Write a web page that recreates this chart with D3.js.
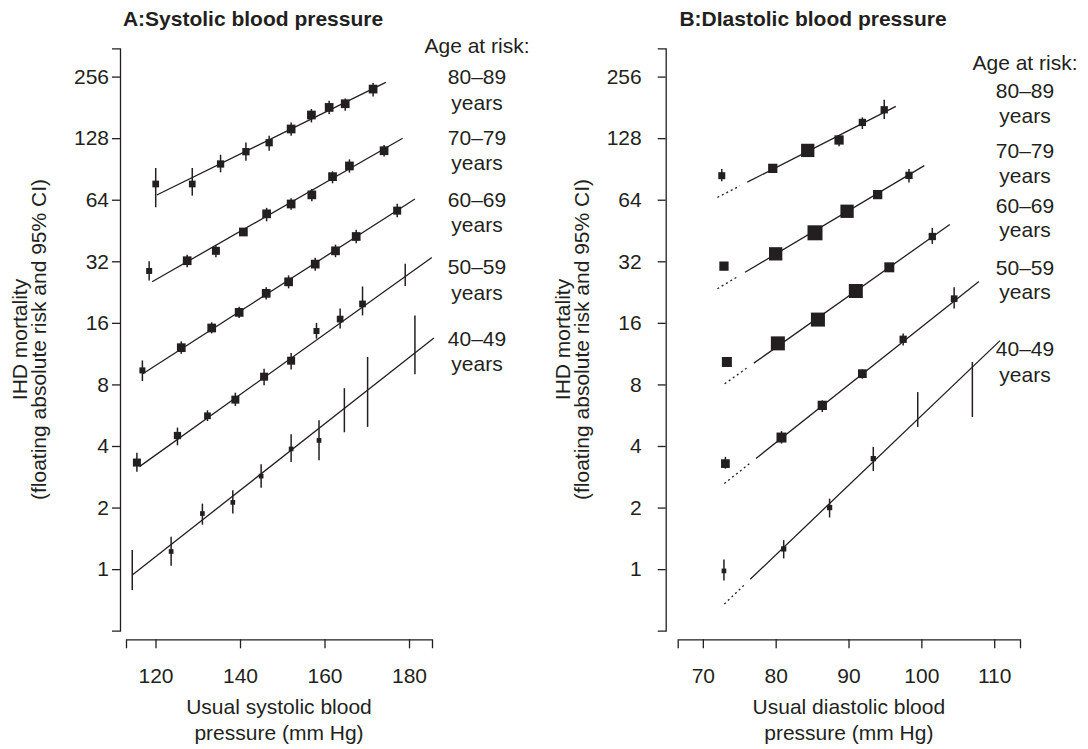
<!DOCTYPE html>
<html><head><meta charset="utf-8">
<script src="https://cdn.jsdelivr.net/npm/d3@7"></script>
<style>
body{margin:0;background:#fff}
text{font-family:"Liberation Sans",Arial,Helvetica,sans-serif;fill:#231f20}
</style>
</head><body>
<svg id="c" width="1088" height="749"></svg>
<script>
// ---------------- DATA ----------------
const ageGroups = ["80–89", "70–79", "60–69", "50–59", "40–49"];
const yTickValues = [1, 2, 4, 8, 16, 32, 64, 128, 256];
const sbpTicks = [120, 140, 160, 180];
const dbpTicks = [70, 80, 90, 100, 110];

// Panel A: systolic blood pressure (mm Hg) vs IHD mortality (floating absolute risk)
const sbpX = [
  [120.05, 128.7, 135.4, 141.4, 146.9, 152.1, 156.9, 161.1, 164.9, 171.5],
  [118.5, 127.5, 134.3, 140.8, 146.3, 152.1, 157.0, 161.9, 165.9, 174.1],
  [116.9, 126.1, 133.3, 139.8, 146.2, 151.5, 157.8, 162.6, 167.5, 177.2],
  [115.6, 125.2, 132.3, 138.9, 145.7, 152.1, 158.1, 163.7, 169.0, 179.1],
  [114.5, 123.7, 131.1, 138.3, 145.0, 152.1, 158.7, 164.7, 170.2, 181.4]
];
const sbpRisk = [
  [76.4, 76.4, 95.7, 109.9, 121.6, 141.9, 166.1, 180.9, 188.6, 222.4],
  [28.7, 32.2, 36.0, 44.5, 54.6, 61.0, 67.6, 83.0, 93.6, 111.1],
  [9.37, 12.1, 15.1, 18.0, 22.3, 25.4, 31.0, 36.0, 42.3, 56.6],
  [3.32, 4.50, 5.62, 6.74, 8.73, 10.45, 14.6, 16.7, 19.8, 27.3],
  [0.99, 1.22, 1.87, 2.12, 2.85, 3.87, 4.26, 5.98, 7.32, 12.4]
];
const sbpLo = [
  [58.8, 67.0, 87.1, 99.3, 111, 131.6, 152.8, 168, 174.3, 204.7],
  [25.8, 29.9, 33.5, 42.7, 50.2, 57.1, 62.9, 77.0, 86.8, 104],
  [8.31, 11.3, 14.2, 16.9, 20.8, 23.6, 28.8, 33.5, 39.2, 52.5],
  [2.99, 4.03, 5.30, 6.28, 7.92, 9.47, 13.4, 15.0, 17.4, 24.2],
  [0.79, 1.04, 1.65, 1.87, 2.50, 3.34, 3.41, 4.67, 4.96, 8.98]
];
const sbpHi = [
  [91.5, 91.5, 106.2, 122, 131.6, 152.8, 177.7, 195, 200, 237.9],
  [32.0, 34.4, 38.2, 46.2, 58.4, 65.0, 72.3, 88.1, 100.8, 118.5],
  [10.48, 13.0, 16.1, 19.2, 23.9, 27.3, 33.3, 38.6, 45.6, 61.1],
  [3.71, 4.92, 5.98, 7.29, 9.55, 11.4, 16.0, 18.8, 24.1, 31.1],
  [1.24, 1.44, 2.09, 2.43, 3.26, 4.57, 5.35, 7.67, 10.9, 17.4]
];
// statistical weight (inverse variance, relative) -> square area
const sbpWeight = [
  [45, 45, 53, 53, 53, 76, 76, 76, 76, 76],
  [36, 76, 64, 76, 76, 76, 76, 76, 76, 76],
  [36, 76, 76, 76, 76, 76, 76, 76, 76, 64],
  [64, 53, 45, 64, 64, 64, 36, 45, 45, 0],
  [0, 22, 22, 22, 22, 22, 22, 0, 0, 0]
];
// fitted regression lines: [x start, x end], [risk start, risk end]
const sbpLineX = [[120.3, 174.5], [119.2, 178.5], [116.9, 181.4], [116.2, 185.4], [114.5, 185.9]];
const sbpLineY = [[67.5, 240], [25.4, 127.9], [9.0, 64.5], [3.17, 33.4], [0.935, 13.5]];

// Panel B: diastolic blood pressure
const dbpX = [
  [72.6, 79.6, 84.4, 88.7, 91.9, 94.9],
  [72.9, 80.0, 85.4, 89.8, 94.0, 98.3],
  [73.3, 80.3, 85.8, 91.0, 95.6, 101.5],
  [73.1, 80.8, 86.4, 91.9, 97.5, 104.5],
  [72.9, 81.1, 87.4, 93.4, 99.5, 107.0]
];
const dbpRisk = [
  [83.9, 91.1, 111.5, 125.4, 152.8, 176.2],
  [30.3, 34.8, 44.1, 56.2, 67.8, 84.2],
  [10.3, 12.7, 16.6, 22.9, 29.9, 42.3],
  [3.28, 4.40, 6.32, 9.03, 13.3, 21.0],
  [0.98, 1.256, 2.0, 3.47, 5.84, 7.57]
];
const dbpLo = [
  [78.7, 87.6, 107.8, 116.7, 141.9, 158.8],
  [28.9, 33.6, 42.6, 54.3, 64.9, 77.8],
  [9.9, 12.2, 16.0, 22.1, 28.7, 38.9],
  [3.10, 4.11, 5.86, 8.53, 12.4, 18.8],
  [0.88, 1.128, 1.79, 3.02, 4.96, 5.54]
];
const dbpHi = [
  [90.5, 94.7, 115.4, 132.5, 161.7, 197.3],
  [31.7, 36.0, 45.6, 58.1, 70.8, 90.5],
  [10.7, 13.2, 17.2, 23.7, 31.1, 46.6],
  [3.54, 4.73, 6.69, 9.47, 14.2, 23.9],
  [1.115, 1.386, 2.21, 3.96, 7.34, 10.3]
];
const dbpWeight = [
  [49, 86, 177, 86, 53, 53],
  [86, 177, 225, 177, 86, 53],
  [100, 196, 196, 196, 100, 53],
  [76, 100, 86, 76, 53, 45],
  [22, 28, 28, 28, 0, 0]
];
const dbpLineX = [[72.0, 96.5], [72.0, 100.4], [73.0, 103.9], [72.95, 107.9], [72.95, 110.8]];
const dbpLineY = [[65.7, 183], [23.5, 93.9], [8.06, 48.4], [2.62, 25.5], [0.675, 13.1]];
// extrapolated (dotted) part ends / fitted (solid) part starts
const dbpBreak = [[75.1, 76.1], [74.65, 75.8], [76.0, 77.0], [76.5, 77.3], [75.8, 76.5]];

// ---------------- DRAWING ----------------
const ink = "#231f20";
const svg = d3.select("#c");
const y = d3.scaleLog().base(2).domain([0.5, 352]).range([630.7, 48.3]);
const side = d3.scaleSqrt().domain([0, 225]).range([0, 15]);

const panels = [
  {
    title: "A:Systolic blood pressure", titleX: 253,
    x: d3.scaleLinear().domain([113.02, 185.44]).range([126, 432]),
    ticks: sbpTicks, axisX: 120, pad: 3,
    X: sbpX, R: sbpRisk, L: sbpLo, H: sbpHi, W: sbpWeight, LX: sbpLineX, LY: sbpLineY, B: null,
    yTitleX: [27, 46],
    legendX: 477,
    legendY: [53, 84, 110, 145, 170, 207, 232, 274, 300, 346, 371],
    xTitle: ["Usual systolic blood", "pressure (mm Hg)"]
  },
  {
    title: "B:DIastolic blood pressure", titleX: 813,
    x: d3.scaleLinear().domain([66.55, 113.54]).range([677.7, 1020]),
    ticks: dbpTicks, axisX: 665.7, pad: 16,
    X: dbpX, R: dbpRisk, L: dbpLo, H: dbpHi, W: dbpWeight, LX: dbpLineX, LY: dbpLineY, B: dbpBreak,
    yTitleX: [570, 589],
    legendX: 1025,
    legendY: [70, 98, 123, 158, 183, 213, 237, 275, 299, 356, 382],
    xTitle: ["Usual diastolic blood", "pressure (mm Hg)"]
  }
];

panels.forEach(p => {
  const g = svg.append("g");
  const x = p.x;

  // title
  g.append("text").attr("x", p.titleX).attr("y", 26).attr("text-anchor", "middle")
    .style("font-weight", "bold").style("font-size", "21px").text(p.title);

  // y axis
  const ya = g.append("g").attr("transform", `translate(${p.axisX},0)`)
    .call(d3.axisLeft(y).tickValues(yTickValues).tickFormat(d3.format("d"))
      .tickSize(8).tickSizeOuter(8).tickPadding(p.pad));
  // x axis
  const xa = g.append("g").attr("transform", "translate(0,639.3)")
    .call(d3.axisBottom(x).tickValues(p.ticks).tickFormat(d3.format("d"))
      .tickSize(9).tickSizeOuter(9).tickPadding(20));
  [ya, xa].forEach(a => {
    a.select(".domain").attr("stroke", ink).attr("stroke-width", 1.3);
    a.selectAll(".tick line").attr("stroke", ink).attr("stroke-width", 1.3);
    a.selectAll(".tick text").style("font-size", "21px").attr("fill", ink)
      .style("font-family", '"Liberation Sans",Arial,sans-serif');
  });

  // y title
  const cy = (y.range()[0] + y.range()[1]) / 2;
  ["IHD mortality", "(floating absolute risk and 95% CI)"].forEach((t, i) => {
    g.append("text").attr("transform", `translate(${p.yTitleX[i]},${cy}) rotate(-90)`)
      .attr("text-anchor", "middle").style("font-size", "21px").text(t);
  });

  // x title
  p.xTitle.forEach((t, i) => {
    g.append("text").attr("x", (x.range()[0] + x.range()[1]) / 2).attr("y", 714 + i * 26)
      .attr("text-anchor", "middle").style("font-size", "21px").text(t);
  });

  // legend
  const leg = ["Age at risk:"];
  ageGroups.forEach(a => { leg.push(a); leg.push("years"); });
  leg.forEach((t, i) => {
    g.append("text").attr("x", p.legendX).attr("y", p.legendY[i])
      .attr("text-anchor", "middle").style("font-size", "21px").text(t);
  });

  // fitted lines (log-linear)
  const at = (k, xv) => {
    const [x0, x1] = p.LX[k], [r0, r1] = p.LY[k];
    const t = (xv - x0) / (x1 - x0);
    return Math.pow(2, Math.log2(r0) + t * (Math.log2(r1) - Math.log2(r0)));
  };
  const line = d3.line().x(d => x(d[0])).y(d => y(d[1]));
  p.LX.forEach((lx, k) => {
    if (p.B) {
      g.append("path").attr("d", line([[lx[0], at(k, lx[0])], [p.B[k][0], at(k, p.B[k][0])]]))
        .attr("stroke", ink).attr("stroke-width", 1.3).attr("stroke-dasharray", "2,3").attr("fill", "none");
      g.append("path").attr("d", line([[p.B[k][1], at(k, p.B[k][1])], [lx[1], at(k, lx[1])]]))
        .attr("stroke", ink).attr("stroke-width", 1.3).attr("fill", "none");
    } else {
      g.append("path").attr("d", line([[lx[0], at(k, lx[0])], [lx[1], at(k, lx[1])]]))
        .attr("stroke", ink).attr("stroke-width", 1.3).attr("fill", "none");
    }
  });

  // CI bars and squares
  p.X.forEach((xs, k) => {
    xs.forEach((xv, j) => {
      g.append("line").attr("x1", x(xv)).attr("x2", x(xv))
        .attr("y1", y(p.L[k][j])).attr("y2", y(p.H[k][j]))
        .attr("stroke", ink).attr("stroke-width", 1.5);
    });
    xs.forEach((xv, j) => {
      const s = side(p.W[k][j]);
      if (s > 0) {
        g.append("rect").attr("x", x(xv) - s / 2).attr("y", y(p.R[k][j]) - s / 2)
          .attr("width", s).attr("height", s).attr("fill", ink);
      }
    });
  });
});
</script>
</body></html>
